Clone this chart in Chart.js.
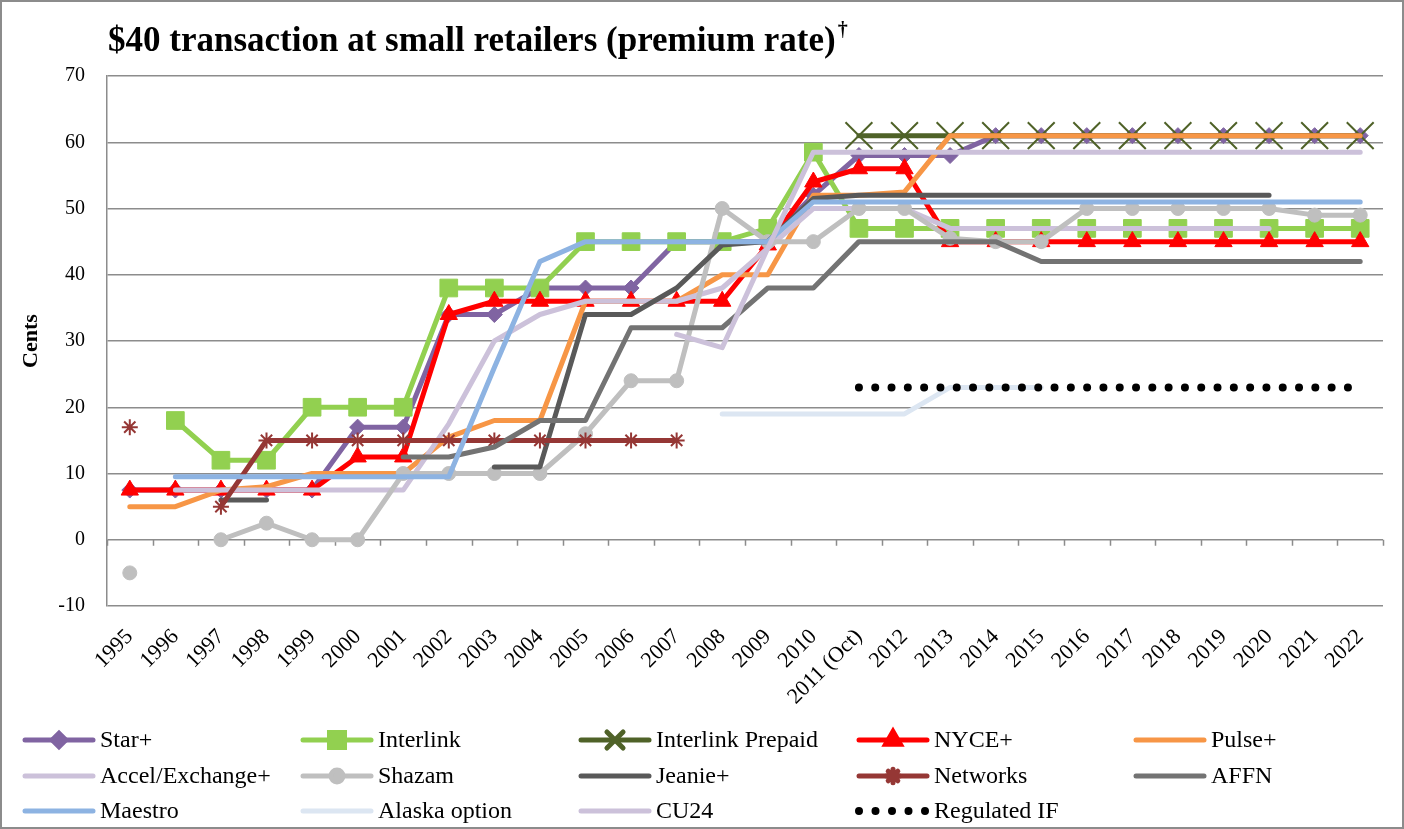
<!DOCTYPE html>
<html>
<head>
<meta charset="utf-8">
<script src="https://cdn.jsdelivr.net/npm/chart.js@4.4.1/dist/chart.umd.min.js"></script>
<style>
  html, body { margin: 0; padding: 0; background: #fff; }
  #wrap { width: 1404px; height: 829px; }
</style>
</head>
<body>
<div id="wrap"><canvas id="chart" width="1404" height="829"></canvas></div>
<script>
const years = ['1995','1996','1997','1998','1999','2000','2001','2002','2003','2004','2005','2006','2007','2008','2009','2010','2011 (Oct)','2012','2013','2014','2015','2016','2017','2018','2019','2020','2021','2022']
const yTicks = [-10, 0, 10, 20, 30, 40, 50, 60, 70]

const starPlus = [7.5,7.5,7.5,7.5,7.5,17,17,34,34,38,38,38,45,45,45,52,58,58,58,61,61,61,61,61,61,61,61,61]
const interlink = [null,18,12,12,20,20,20,38,38,38,45,45,45,45,47,58.5,47,47,47,47,47,47,47,47,47,47,47,47]
const interlinkPrepaid = [null,null,null,null,null,null,null,null,null,null,null,null,null,null,null,null,61,61,61,61,61,61,61,61,61,61,61,61]
const nycePlus = [7.5,7.5,7.5,7.5,7.5,12.5,12.5,34,36,36,36,36,36,36,44.5,54,56,56,45,45,45,45,45,45,45,45,45,45]
const pulsePlus = [5,5,7.5,8,10,10,10,15.5,18,18,36,36,36,40,40,52,52,52.5,61,61,61,61,61,61,61,61,61,61]
const accelExchange = [null,7.5,7.5,7.5,7.5,7.5,7.5,17.5,30,34,36,36,36,38,44,50,50,50,47,47,47,47,47,47,47,47,null,null]
const shazam = [-5,null,0,2.5,0,0,10,10,10,10,16,24,24,50,45,45,50,50,45.5,45,45,50,50,50,50,50,49,49]
const jeaniePlus = [null,null,6,6,null,null,null,null,11,11,34,34,38,44.5,45,51.5,52,52,52,52,52,52,52,52,52,52,null,null]
const networks = [17,null,5,15,15,15,15,15,15,15,15,15,15,null,null,null,null,null,null,null,null,null,null,null,null,null,null,null]
const affn = [null,null,null,null,null,null,12.5,12.5,14,18,18,32,32,32,38,38,45,45,45,45,42,42,42,42,42,42,42,42]
const maestro = [null,9.5,9.5,9.5,9.5,9.5,9.5,9.5,26,42,45,45,45,45,45,51,51,51,51,51,51,51,51,51,51,51,51,51]
const alaskaOption = [null,null,null,null,null,null,null,null,null,null,null,null,null,19,19,19,19,19,23,23,23,null,null,null,null,null,null,null]
const cu24 = [null,null,null,null,null,null,null,null,null,null,null,null,31,29,44,58.5,58.5,58.5,58.5,58.5,58.5,58.5,58.5,58.5,58.5,58.5,58.5,58.5]
const regulatedIF = [null,null,null,null,null,null,null,null,null,null,null,null,null,null,null,null,23,23,23,23,23,23,23,23,23,23,23,23]

const SERIF = "'Liberation Serif', 'DejaVu Serif', serif"

function series(label, data, color, pointStyle, radius, extra) {
  return Object.assign({
    label,
    data,
    borderColor: color,
    backgroundColor: color,
    borderWidth: 5,
    borderCapStyle: 'round',
    borderJoinStyle: 'round',
    pointStyle: pointStyle || 'circle',
    pointRadius: pointStyle ? radius : 0,
    pointHoverRadius: pointStyle ? radius : 0,
    pointBorderWidth: 1,
    pointBackgroundColor: color,
    pointBorderColor: color,
    tension: 0,
    spanGaps: false,
  }, extra || {})
}

const datasets = [
  series('Star+', starPlus, '#8064a2', 'rectRot', 8),
  series('Interlink', interlink, '#92d050', 'rect', 12.5),
  series('Interlink Prepaid', interlinkPrepaid, '#4f6228', 'crossRot', 19, { pointBorderWidth: 2 }),
  series('NYCE+', nycePlus, '#ff0000', 'triangle', 10),
  series('Pulse+', pulsePlus, '#f79646'),
  series('Accel/Exchange+', accelExchange, '#ccc1da'),
  series('Shazam', shazam, '#bfbfbf', 'circle', 7),
  series('Jeanie+', jeaniePlus, '#595959'),
  series('Networks', networks, '#953735', 'star', 8, { pointBorderWidth: 2 }),
  series('AFFN', affn, '#737373'),
  series('Maestro', maestro, '#8db3e2'),
  series('Alaska option', alaskaOption, '#dce6f2'),
  series('CU24', cu24, '#ccc1da'),
  series('Regulated IF', regulatedIF, '#000000', null, 0, { borderWidth: 8, borderDash: [0, 16.3] }),
]
// later series sit on top, as in the original
datasets.forEach((d, i) => { d.order = -i })

// title with superscript dagger
const titlePlugin = {
  id: 'titleText',
  afterDraw(chart) {
    const ctx = chart.ctx
    const text = '$40 transaction at small retailers (premium rate)'
    ctx.save()
    ctx.fillStyle = '#000'
    ctx.textBaseline = 'alphabetic'
    ctx.textAlign = 'left'
    ctx.font = 'bold 35px ' + SERIF
    ctx.fillText(text, 108, 51)
    const tw = ctx.measureText(text).width
    ctx.font = 'bold 20px ' + SERIF
    ctx.fillText('\u2020', 108 + tw + 2, 36)
    ctx.restore()
  }
}

// category-axis tick marks sit on the zero line
const zeroTicks = {
  id: 'zeroTicks',
  beforeDatasetsDraw(chart) {
    const { ctx, chartArea, scales } = chart
    const y0 = scales.y.getPixelForValue(0)
    const step = (chartArea.right - chartArea.left) / years.length
    ctx.save()
    ctx.strokeStyle = '#8c8c8c'
    ctx.lineWidth = 1.5
    ctx.beginPath()
    for (let i = 0; i <= years.length; i++) {
      const x = Math.round(chartArea.left + i * step) + 0.5
      ctx.moveTo(x, y0)
      ctx.lineTo(x, y0 + 6)
    }
    ctx.stroke()
    ctx.restore()
  }
}

// fixed-column legend plus the outer frame
const gridLegend = {
  id: 'gridLegend',
  afterDraw(chart) {
    const ctx = chart.ctx
    const colX = [22, 300, 578, 856, 1133]
    const rowY = [740, 776, 811]
    ctx.save()
    chart.data.datasets.forEach((d, i) => {
      const x = colX[i % 5]
      const y = rowY[Math.floor(i / 5)]
      ctx.strokeStyle = d.borderColor
      ctx.fillStyle = d.borderColor
      ctx.lineCap = 'round'
      if (d.borderDash) {
        ctx.lineWidth = 8
        ctx.setLineDash([0, 16.5])
      } else {
        ctx.lineWidth = 5
        ctx.setLineDash([])
      }
      ctx.beginPath()
      ctx.moveTo(x + 3, y)
      ctx.lineTo(x + 71, y)
      ctx.stroke()
      ctx.setLineDash([])
      if (d.pointRadius) {
        const shrink = d.pointStyle === 'crossRot' ? 0.6 : 0.85
        Chart.helpers.drawPoint(ctx, {
          pointStyle: d.pointStyle,
          radius: d.pointRadius * shrink,
          borderWidth: d.pointBorderWidth,
          rotation: 0
        }, x + 37, y)
      }
      ctx.fillStyle = '#000'
      ctx.font = '24px ' + SERIF
      ctx.textBaseline = 'middle'
      ctx.textAlign = 'left'
      ctx.fillText(d.label, x + 78, y + 1)
    })
    ctx.strokeStyle = '#8c8c8c'
    ctx.lineWidth = 2
    ctx.strokeRect(1, 1, chart.width - 2, chart.height - 2)
    ctx.restore()
  }
}

new Chart(document.getElementById('chart'), {
  type: 'line',
  data: { labels: years, datasets },
  options: {
    responsive: false,
    animation: false,
    devicePixelRatio: 1,
    layout: { padding: { left: 0, top: 76, right: 19, bottom: 109 } },
    plugins: {
      legend: { display: false },
      title: { display: false },
      tooltip: { enabled: false }
    },
    scales: {
      x: {
        offset: true,
        grid: { display: false },
        border: { display: false },
        ticks: {
          autoSkip: false,
          maxRotation: 45,
          minRotation: 45,
          padding: 10,
          color: '#000',
          font: { family: SERIF, size: 22 }
        },
        afterFit(s) { s.height = 114 }
      },
      y: {
        min: -10,
        max: 70,
        afterBuildTicks(s) { s.ticks = yTicks.map(v => ({ value: v })) },
        grid: { color: '#8c8c8c', lineWidth: 1.5, drawTicks: false },
        border: { display: true, color: '#8c8c8c', width: 1.5 },
        ticks: {
          padding: 22,
          color: '#000',
          font: { family: SERIF, size: 20 }
        },
        title: {
          display: true,
          text: 'Cents',
          color: '#000',
          font: { family: SERIF, size: 22, weight: 'bold' },
          padding: { top: 18, bottom: 0 }
        },
        afterFit(s) { s.width = 107 }
      }
    }
  },
  plugins: [titlePlugin, zeroTicks, gridLegend]
})
</script>
</body>
</html>
